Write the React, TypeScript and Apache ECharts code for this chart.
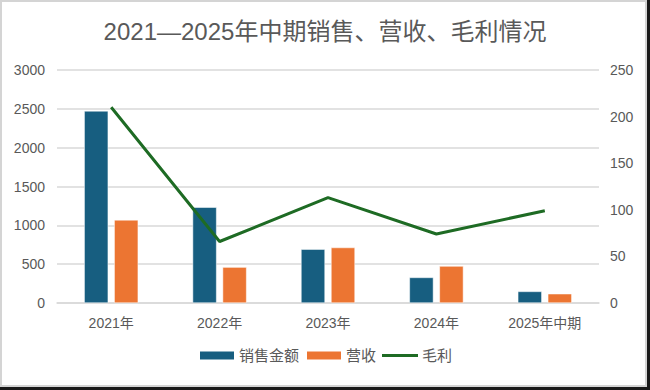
import React, { useEffect, useRef } from "react";
import * as echarts from "echarts";

const categories = ["2021年", "2022年", "2023年", "2024年", "2025年中期"];
const salesAmount = [2473, 1233, 693, 329, 149];
const revenue = [1070, 462, 714, 475, 119];
const grossProfit = [210, 66, 113, 74, 99];

const FONT = "'Liberation Sans', 'Noto Sans CJK SC', sans-serif";

export default function App() {
  const ref = useRef<HTMLDivElement>(null);
  useEffect(() => {
    if (!ref.current) return;
    const chart = echarts.init(ref.current, null, { renderer: "svg" });
    chart.setOption({
      animation: false,
      title: {
        text: "2021—2025年中期销售、营收、毛利情况",
        left: "center",
        top: 14,
        textStyle: { fontFamily: FONT, fontSize: 24, fontWeight: "normal", color: "#595959" },
      },
      legend: {
        bottom: 22,
        left: "center",
        itemWidth: 36,
        itemHeight: 10,
        itemGap: 6,
        symbolKeepAspect: true,
        textStyle: { fontFamily: FONT, fontSize: 15, color: "#595959", padding: [0, 0, 0, -1] },
        data: [
          { name: "销售金额", icon: "rect" },
          { name: "营收", icon: "rect" },
          { name: "毛利", icon: "path://M0,0 L36,0 L36,3 L0,3 Z", itemStyle: { color: "#1e6b24" } },
        ],
      },
      grid: { left: 57, right: 51, top: 70, bottom: 87, containLabel: false },
      xAxis: {
        type: "category",
        data: categories,
        axisTick: { show: false },
        axisLine: { lineStyle: { color: "#d9d9d9", width: 1.5 } },
        axisLabel: { fontFamily: FONT, fontSize: 14, color: "#595959", margin: 13 },
      },
      yAxis: [
        {
          type: "value",
          min: 0,
          max: 3000,
          interval: 500,
          axisLine: { show: false },
          axisTick: { show: false },
          splitLine: { lineStyle: { color: "#d9d9d9", width: 1.5 } },
          axisLabel: {
            fontFamily: FONT,
            fontSize: 14,
            color: "#595959",
            margin: 12,
            formatter: (v: number) => String(v),
          },
        },
        {
          type: "value",
          min: 0,
          max: 250,
          interval: 50,
          axisLine: { show: false },
          axisTick: { show: false },
          splitLine: { show: false },
          axisLabel: {
            fontFamily: FONT,
            fontSize: 14,
            color: "#595959",
            margin: 11,
            formatter: (v: number) => String(v),
          },
        },
      ],
      series: [
        {
          name: "销售金额",
          type: "bar",
          data: salesAmount,
          barWidth: 24,
          barGap: "25%",
          itemStyle: { color: "#175e80", borderColor: "#ffffff", borderWidth: 0.5 },
        },
        {
          name: "营收",
          type: "bar",
          data: revenue,
          barWidth: 24,
          barGap: "25%",
          itemStyle: { color: "#ec7532", borderColor: "#ffffff", borderWidth: 0.5 },
        },
        {
          name: "毛利",
          type: "line",
          yAxisIndex: 1,
          data: grossProfit,
          symbol: "none",
          lineStyle: { color: "#1e6b24", width: 3 },
          itemStyle: { color: "#1e6b24" },
        },
      ],
    });
    return () => chart.dispose();
  }, []);
  return (
    <div style={{ position: "fixed", left: 0, top: 0, width: 650, height: 390, background: "#1a1a1a" }}>
      <div
        style={{
          position: "absolute",
          left: 0,
          top: 0,
          width: 643,
          height: 383,
          border: "2px solid #d4d4d4",
          background: "#ffffff",
        }}
      />
      <div ref={ref} style={{ position: "absolute", left: 0, top: 0, width: 650, height: 390 }} />
    </div>
  );
}
